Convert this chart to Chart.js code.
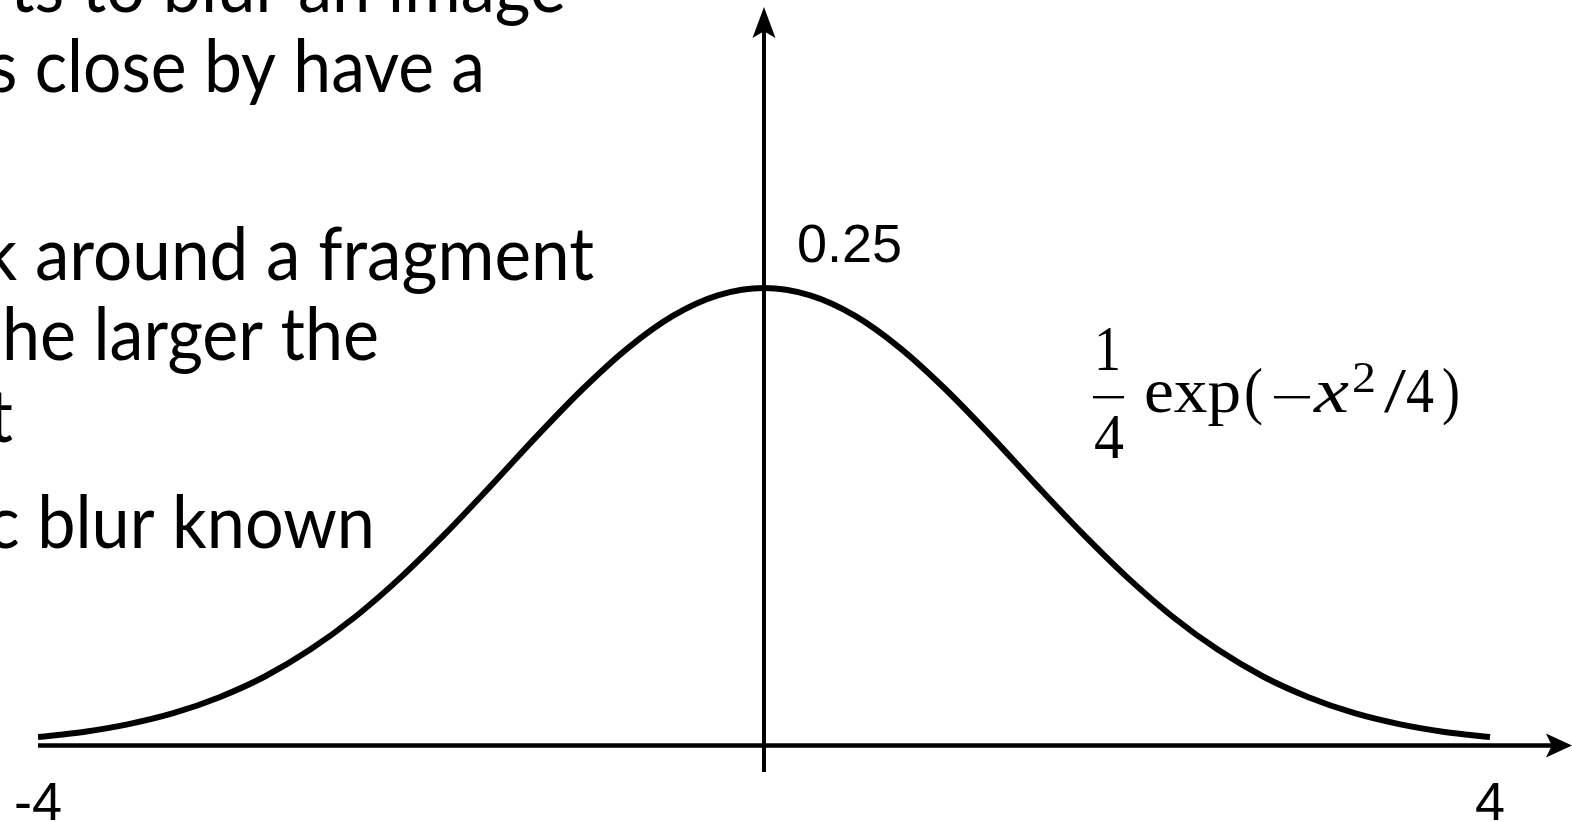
<!DOCTYPE html>
<html>
<head>
<meta charset="utf-8">
<script src="https://cdn.jsdelivr.net/npm/chart.js@4"></script>
<style>
  html, body { margin: 0; padding: 0; background: #fff; overflow: hidden; }
  #wrap { position: relative; width: 1572px; height: 822px; }
</style>
</head>
<body>
<div id="wrap"><canvas id="grafico"></canvas></div>
<script>
/*************************************************
 * DATA
 *************************************************/
const xValues = [-4, -3.75, -3.5, -3.25, -3, -2.75, -2.5, -2.25, -2, -1.75, -1.5, -1.25, -1, -0.75, -0.5, -0.25,
                 0, 0.25, 0.5, 0.75, 1, 1.25, 1.5, 1.75, 2, 2.25, 2.5, 2.75, 3, 3.25, 3.5, 3.75, 4];
const yValues = [0.0046, 0.0074, 0.0117, 0.0178, 0.0264, 0.0377, 0.0524, 0.0705, 0.0920, 0.1163, 0.1424, 0.1692,
                 0.1947, 0.2172, 0.2349, 0.2461, 0.25, 0.2461, 0.2349, 0.2172, 0.1947, 0.1692, 0.1424, 0.1163,
                 0.0920, 0.0705, 0.0524, 0.0377, 0.0264, 0.0178, 0.0117, 0.0074, 0.0046];

const xTickValues = [-4, 4];
const xTickLabels = ['-4', '4'];
const yTickValues = [0.25];
const yTickLabels = ['0.25'];

// extent of the drawn axis arrows, in data units
const axisXRange = [-4, 4.452];
const axisYRange = [-0.0145, 0.4036];

// slide text cut off at the left edge
const slideLines = [
  'ts to blur an image',
  's close by have a',
  'k around a fragment',
  'he larger the',
  't',
  'c blur known'
];

/*************************************************
 * LAYOUT
 *************************************************/
const slideLayout = [
  { left: 10, right: 566, base: 12 },
  { left: -12, right: 485, base: 92 },
  { left: -18, right: 594, base: 280 },
  { left: 2, right: 379, base: 360 },
  { left: -12, right: 13, base: 442 },
  { left: -13, right: 375, base: 548 }
];

/*************************************************
 * UTILITIES
 *************************************************/
function fitText(ctx, text, left, right, base) {
  const w = ctx.measureText(text).width;
  ctx.save();
  ctx.translate(left, base);
  ctx.scale((right - left) / w, 1);
  ctx.fillText(text, 0, 0);
  ctx.restore();
}

function arrowHead(ctx, tipX, tipY, dir, len, half) {
  ctx.beginPath();
  if (dir === 'right') {
    ctx.moveTo(tipX, tipY);
    ctx.lineTo(tipX - len, tipY - half);
    ctx.lineTo(tipX - len * 0.78, tipY);
    ctx.lineTo(tipX - len, tipY + half);
  } else {
    ctx.moveTo(tipX, tipY);
    ctx.lineTo(tipX - half, tipY + len);
    ctx.lineTo(tipX, tipY + len * 0.78);
    ctx.lineTo(tipX + half, tipY + len);
  }
  ctx.closePath();
  ctx.fill();
}

/*************************************************
 * PLUGINS
 *************************************************/
const eixos = {
  id: 'eixos',
  beforeDatasetsDraw(chart) {
    const { ctx, scales: { x, y } } = chart;
    const y0 = y.getPixelForValue(0);
    const x0 = x.getPixelForValue(0);
    const xs = x.getPixelForValue(axisXRange[0]);
    const xe = x.getPixelForValue(axisXRange[1]);
    const ys = y.getPixelForValue(axisYRange[0]);
    const ye = y.getPixelForValue(axisYRange[1]);

    ctx.save();
    ctx.strokeStyle = '#000';
    ctx.fillStyle = '#000';
    ctx.lineCap = 'butt';

    ctx.lineWidth = 4.5;
    ctx.beginPath();
    ctx.moveTo(xs, y0);
    ctx.lineTo(xe - 15, y0);
    ctx.stroke();
    arrowHead(ctx, xe, y0, 'right', 26, 12);

    ctx.lineWidth = 4;
    ctx.beginPath();
    ctx.moveTo(x0, ys);
    ctx.lineTo(x0, ye + 18);
    ctx.stroke();
    arrowHead(ctx, x0, ye, 'up', 31, 11.5);
    ctx.restore();
  },
  afterDatasetsDraw(chart) {
    const { ctx, scales: { x, y } } = chart;
    const y0 = y.getPixelForValue(0);
    const x0 = x.getPixelForValue(0);

    ctx.save();
    ctx.fillStyle = '#000';

    // tick labels
    ctx.font = '54px "Liberation Sans", Arial, sans-serif';
    ctx.textBaseline = 'alphabetic';
    ctx.textAlign = 'center';
    xTickValues.forEach((v, i) => {
      ctx.fillText(xTickLabels[i], x.getPixelForValue(v), y0 + 75);
    });
    ctx.textAlign = 'left';
    yTickValues.forEach((v, i) => {
      ctx.fillText(yTickLabels[i], x0 + 33, y.getPixelForValue(v) - 26);
    });

    // formula 1/4 exp(-x^2/4)
    const serif = '"Liberation Serif", "DejaVu Serif", serif';
    ctx.font = '64px ' + serif;
    ctx.textAlign = 'left';
    fitText(ctx, '1', 1094, 1121, 370);
    fitText(ctx, '4', 1094, 1124, 458);
    ctx.fillRect(1093, 396, 31, 2.4);
    fitText(ctx, 'exp', 1144, 1241, 412);
    fitText(ctx, '(', 1244, 1263, 412);
    ctx.fillRect(1274, 396, 36, 2.4);
    ctx.font = 'italic 64px ' + serif;
    fitText(ctx, 'x', 1314, 1349, 412);
    ctx.font = '44px ' + serif;
    fitText(ctx, '2', 1352, 1376, 392);
    ctx.font = '64px ' + serif;
    fitText(ctx, '/', 1384, 1406, 412);
    fitText(ctx, '4', 1406, 1434, 412);
    fitText(ctx, ')', 1442, 1460, 412);

    // slide text
    ctx.font = '73px Lato, "Open Sans", sans-serif';
    slideLines.forEach((t, i) => {
      const l = slideLayout[i];
      fitText(ctx, t, l.left, l.right, l.base);
    });
    ctx.restore();
  }
};

/*************************************************
 * CHART
 *************************************************/
new Chart(document.getElementById('grafico'), {
  type: 'line',
  data: {
    datasets: [{
      data: xValues.map((v, i) => ({ x: v, y: yValues[i] })),
      borderColor: '#000',
      borderWidth: 6,
      pointRadius: 0,
      cubicInterpolationMode: 'monotone',
      fill: false
    }]
  },
  options: {
    responsive: true,
    maintainAspectRatio: false,
    animation: false,
    layout: { padding: { left: 38, right: 0, top: 7, bottom: 50 } },
    scales: {
      x: { type: 'linear', min: axisXRange[0], max: axisXRange[1], display: false },
      y: { type: 'linear', min: axisYRange[0], max: axisYRange[1], display: false }
    },
    plugins: {
      legend: { display: false },
      tooltip: { enabled: false }
    }
  },
  plugins: [eixos]
});
</script>
</body>
</html>
